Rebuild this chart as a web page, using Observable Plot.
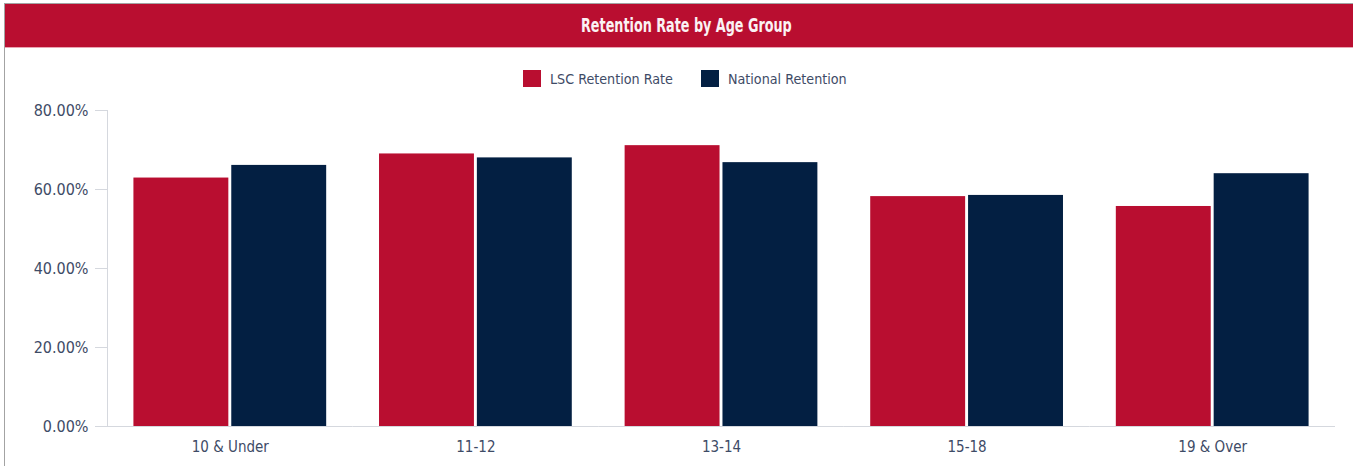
<!DOCTYPE html>
<html><head><meta charset="utf-8">
<script src="https://cdn.jsdelivr.net/npm/d3@7"></script>
<script src="https://cdn.jsdelivr.net/npm/@observablehq/plot@0.6"></script>
<style>
body{margin:0;background:#fff;width:1353px;height:466px;overflow:hidden;position:relative;font-family:"DejaVu Sans Condensed","DejaVu Sans",sans-serif;}
#frame{position:absolute;left:4px;top:3px;width:1360px;height:480px;border-left:1px solid #a3a3a3;border-top:1px solid #a3a3a3;}
#title{position:absolute;left:5px;top:4px;width:1348px;height:43px;background:#b90e30;color:#fbf2f4;font-weight:bold;font-size:20px;text-align:center;line-height:43px;border-bottom:1px solid #eaa4b2;}
#title span{display:inline-block;transform:scaleX(0.71);transform-origin:center;margin-left:14px;}
#legend{position:absolute;top:70px;left:523px;display:flex;align-items:center;font-size:14.2px;color:#3e4b66;white-space:nowrap;}
#legend .sw{width:18px;height:17px;display:inline-block;margin-right:9px;}
#legend .item{display:flex;align-items:center;margin-right:28px;}
#chart{position:absolute;left:0;top:95px;}
</style></head>
<body>
<div id="frame"></div>
<div id="title"><span></span></div>
<div id="legend"></div>
<div id="chart"></div>
<script>
const titleText = "Retention Rate by Age Group";
const categories = ["10 & Under", "11-12", "13-14", "15-18", "19 & Over"];
const seriesNames = ["LSC Retention Rate", "National Retention"];
const lscRetention = [62.9, 69.0, 71.1, 58.2, 55.7];
const nationalRetention = [66.1, 68.0, 66.8, 58.5, 64.0];
const seriesColors = ["#b90e30", "#031f42"];
const yTicks = [0, 20, 40, 60, 80];

document.querySelector("#title span").textContent = titleText;
const legend = document.getElementById("legend");
seriesNames.forEach((s, i) => {
  const item = document.createElement("div");
  item.className = "item";
  const sw = document.createElement("span");
  sw.className = "sw";
  sw.style.background = seriesColors[i];
  const t = document.createElement("span");
  t.textContent = s;
  item.appendChild(sw); item.appendChild(t);
  legend.appendChild(item);
});

const data = categories.flatMap((c, i) => [
  {group: c, series: seriesNames[0], value: lscRetention[i]},
  {group: c, series: seriesNames[1], value: nationalRetention[i]}
]);

const axisColor = "#d5d8de";
const textColor = "#3e4b66";
const chart = Plot.plot({
  width: 1353,
  height: 371,
  marginLeft: 107,
  marginRight: 18,
  marginTop: 15,
  marginBottom: 40,
  fx: {domain: categories, padding: 0, round: false, label: null},
  x: {domain: seriesNames, paddingInner: 0.03, paddingOuter: 0.27, round: false, axis: null},
  y: {domain: [0, 80], axis: null},
  color: {domain: seriesNames, range: seriesColors},
  style: {fontFamily: '"DejaVu Sans Condensed","DejaVu Sans",sans-serif', fontSize: "15px", color: textColor, background: "transparent"},
  marks: [
    Plot.barY(data, {fx: "group", x: "series", y: "value", fill: "series"}),
    Plot.ruleY([0], {stroke: axisColor}),
    Plot.frame({anchor: "left", facetAnchor: "left", stroke: axisColor}),
    Plot.axisY({ticks: yTicks, tickSize: 12, tickPadding: 7, fontSize: 16, tickFormat: d => d.toFixed(2) + "%", stroke: axisColor, fill: textColor, label: null}),
    Plot.axisFx({anchor: "bottom", tickSize: 0, tickPadding: 15, fontSize: 15, label: null, fill: textColor})
  ]
});
document.getElementById("chart").appendChild(chart);
</script>
</body></html>
